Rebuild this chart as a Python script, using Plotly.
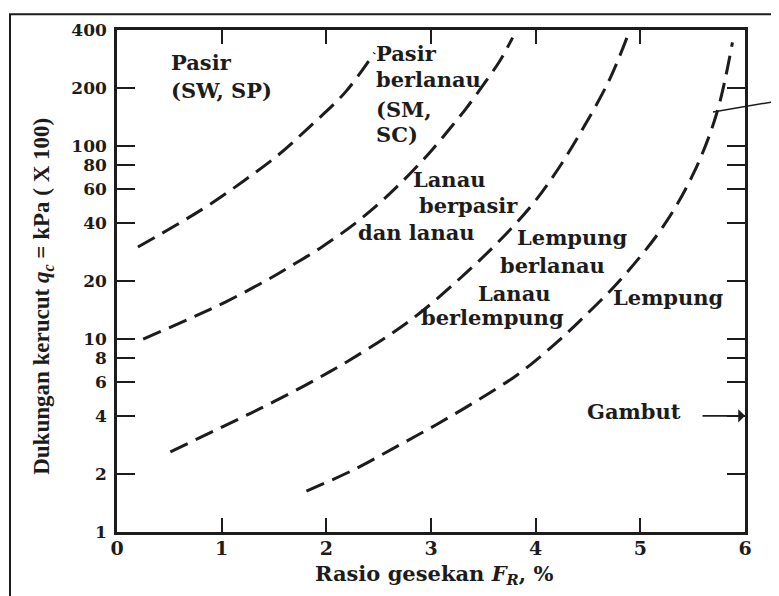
import math
import plotly.graph_objects as go

# ---------------- data ----------------
# boundary 1: Pasir (SW, SP) | Pasir berlanau (SM, SC)
b1_fr = [0.20, 0.60, 0.89, 1.21, 1.53, 1.84, 2.18, 2.46]
b1_qc = [30, 40, 50, 66, 89, 126, 190, 305]
# boundary 2: Pasir berlanau | Lanau berpasir dan lanau
b2_fr = [0.25, 0.70, 1.05, 1.46, 1.65, 1.94, 2.26, 2.51, 2.70, 2.89, 3.02, 3.21, 3.34, 3.53, 3.66, 3.78]
b2_qc = [10, 12.8, 15.7, 20.6, 23.7, 29.6, 39.2, 50.8, 63.5, 81, 97, 129, 158, 219, 278, 365]
# boundary 3: Lanau berpasir | Lempung berlanau / Lanau berlempung
b3_fr = [0.51, 0.95, 1.37, 1.78, 2.03, 2.19, 2.58, 2.89, 3.25, 3.60, 3.95, 4.20, 4.45, 4.71, 4.88]
b3_qc = [2.6, 3.39, 4.37, 5.69, 6.76, 7.59, 10.3, 13.6, 20.0, 30.2, 48.4, 74.1, 123, 224, 375]
# boundary 4: Lempung berlanau | Lempung
b4_fr = [1.81, 2.26, 2.67, 3.05, 3.44, 3.82, 4.11, 4.42, 4.81, 5.22, 5.51, 5.73, 5.88]
b4_qc = [1.63, 2.1, 2.77, 3.6, 4.8, 6.5, 8.7, 12.4, 20.3, 38.5, 72.6, 148, 345]

x_ticks = [0, 1, 2, 3, 4, 5, 6]
y_ticks = [1, 2, 4, 6, 8, 10, 20, 40, 60, 80, 100, 200, 400]
y_tick_text = ["1", "2", "4", "6", "8", "10", "20", "40", "60", "80", "100", "200", "400"]

gambut_qc = 4

# ---------------- layout helpers ----------------
OFF = 8                      # page body margin of the html page
FW, FH = 779 - OFF, 596 - OFF
ML, MR, MT, MB = 109, 34, 16, 64
PW, PH = FW - ML - MR, FH - MT - MB


def pxx(px):
    """screen pixel x -> paper x"""
    return (px - OFF - ML) / PW


def pxy(py):
    """screen pixel y -> paper y"""
    return (FH - MB - (py - OFF)) / PH


INK = "#1c1c1c"
LBL_FONT = dict(family="DejaVu Serif", size=21, color=INK, weight="bold")

fig = go.Figure()
for fr, qc in [(b1_fr, b1_qc), (b2_fr, b2_qc), (b3_fr, b3_qc), (b4_fr, b4_qc)]:
    fig.add_trace(go.Scatter(
        x=fr, y=qc, mode="lines", line_shape="spline",
        line=dict(color=INK, width=3, dash="19px,9px"),
        showlegend=False, hoverinfo="skip"))

# region labels (text, left px, center py)
labels = [
    ("Pasir", 170, 57), ("(SW, SP)", 170, 85),
    ("Pasir", 375, 48), ("berlanau", 375, 74), ("(SM,", 375, 104), ("SC)", 375, 130),
    ("Lanau", 412, 175), ("berpasir", 418, 202), ("dan lanau", 357, 229),
    ("Lempung", 516, 234), ("berlanau", 499, 262),
    ("Lanau", 477, 291), ("berlempung", 420, 315),
    ("Lempung", 612, 295),
    ("Gambut", 586, 410),
]
annotations = []
for t, lx, cy in labels:
    annotations.append(dict(
        text=t, x=pxx(lx), y=pxy(cy), xref="paper", yref="paper",
        xanchor="left", yanchor="middle", showarrow=False, font=LBL_FONT,
        borderpad=0))

# Gambut arrow to right axis
annotations.append(dict(
    text="", x=6, y=math.log10(gambut_qc), xref="x", yref="y",
    ax=-44, ay=0, showarrow=True, arrowhead=1, arrowsize=1.4,
    arrowwidth=1.6, arrowcolor=INK, standoff=0))

# axis titles
annotations.append(dict(
    text="Dukungan kerucut <i>q</i><sub><i>c</i></sub> = kPa ( X 100)",
    x=pxx(43), y=pxy(294), xref="paper", yref="paper", textangle=-90,
    xanchor="center", yanchor="middle", showarrow=False,
    font=dict(family="Liberation Serif", size=23, color=INK, weight="bold")))
annotations.append(dict(
    text="Rasio gesekan <i>F</i><sub><i>R</i></sub>, %",
    x=pxx(434), y=pxy(575), xref="paper", yref="paper",
    xanchor="center", yanchor="middle", showarrow=False, borderpad=0,
    font=dict(family="DejaVu Serif", size=21, color=INK, weight="bold")))

shapes = [
    # outer frame of the scanned figure
    dict(type="rect", xref="paper", yref="paper",
         x0=pxx(10), y0=pxy(8), x1=pxx(900), y1=pxy(700),
         line=dict(color=INK, width=2)),
    # leader line to a cropped label on the right
    dict(type="line", xref="paper", yref="paper",
         x0=pxx(713), y0=pxy(107), x1=pxx(800), y1=pxy(92),
         line=dict(color=INK, width=1.5)),
]

fig.update_layout(
    width=FW, height=FH,
    margin=dict(l=ML, r=MR, t=MT, b=MB),
    paper_bgcolor="white", plot_bgcolor="white",
    annotations=annotations, shapes=shapes,
    xaxis=dict(range=[0, 6], tickvals=x_ticks, ticks="inside", ticklen=14,
               tickwidth=2, tickcolor=INK, showline=True, linewidth=2.5,
               linecolor=INK, mirror="ticks", showgrid=False, zeroline=False,
               tickfont=dict(family="DejaVu Serif", size=19, color=INK, weight="bold"),
               ticklabelstandoff=-3),
    yaxis=dict(type="log", range=[0, math.log10(400)], tickvals=y_ticks,
               ticktext=y_tick_text, ticks="inside", ticklen=18, tickwidth=2,
               tickcolor=INK, showline=True, linewidth=2.5, linecolor=INK,
               mirror="ticks", showgrid=False, zeroline=False,
               tickfont=dict(family="DejaVu Serif", size=17, color=INK, weight="bold"),
               ticklabelstandoff=4),
)

fig.write_html("out.html")
